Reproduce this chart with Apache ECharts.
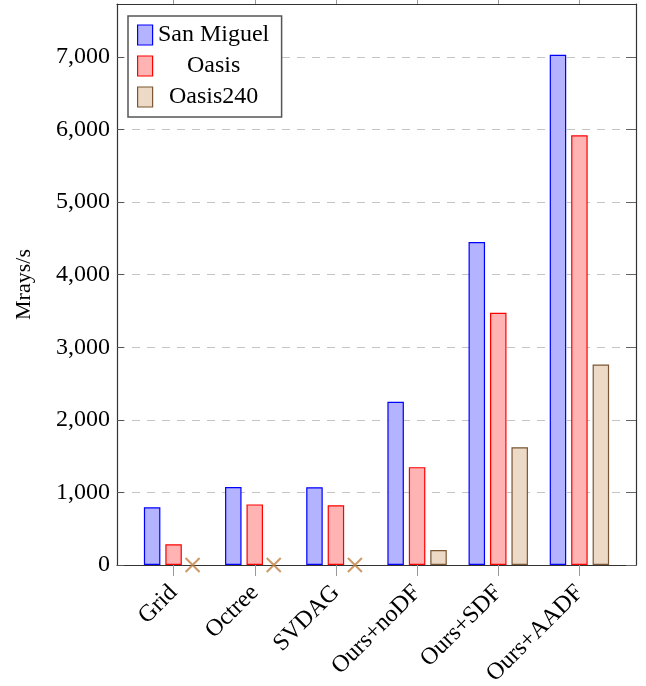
<!DOCTYPE html>
<html>
<head>
<meta charset="utf-8">
<script src="https://cdn.jsdelivr.net/npm/echarts@6/dist/echarts.min.js"></script>
<style>html,body{margin:0;padding:0;background:#fff}#c{width:646px;height:686px}</style>
</head>
<body>
<div id="c"></div>
<script>
const categories = ['Grid', 'Octree', 'SVDAG', 'Ours+noDF', 'Ours+SDF', 'Ours+AADF'];
const sanMiguel = [795, 1075, 1072, 2250, 4450, 7030];
const oasis = [285, 835, 822, 1348, 3475, 5920];
const oasis240 = [null, null, null, 206, 1623, 2761];
const missing = [['Grid', 0], ['Octree', 0], ['SVDAG', 0]];
const yTicks = [0, 1000, 2000, 3000, 4000, 5000, 6000, 7000];

const FONT = 'Liberation Serif';
const YMAX = 7730;
const chart = echarts.init(document.getElementById('c'), null, {renderer: 'canvas'});
const fmt = v => v.toLocaleString('en-US');
const frameLine = {show: true, onZero: false, lineStyle: {color: '#333', width: 1.2}};

chart.setOption({
  animation: false,
  textStyle: {fontFamily: FONT},
  grid: [
    {left: 133, right: 26, top: 4, bottom: 121, outerBoundsMode: 'none', containLabel: false},
    {left: 117, right: 10, top: 4, bottom: 121, outerBoundsMode: 'none', containLabel: false}
  ],
  legend: {
    data: ['San Miguel', 'Oasis', 'Oasis240'],
    orient: 'vertical',
    left: 128, top: 16,
    padding: [7, 12, 8, 9],
    icon: 'rect',
    itemWidth: 15, itemHeight: 20, itemGap: 7,
    borderColor: '#555', borderWidth: 1.5,
    backgroundColor: '#fff',
    itemStyle: {borderWidth: 1.2},
    formatter: n => '{c|' + n + '}',
    textStyle: {
      fontFamily: FONT, fontSize: 24, color: '#000',
      rich: {c: {width: 112, align: 'center', fontSize: 24, lineHeight: 26, fontFamily: FONT, color: '#000'}}
    }
  },
  xAxis: [
    {
      type: 'category', data: categories, gridIndex: 0, position: 'bottom',
      axisLine: {show: false},
      axisTick: {show: true, alignWithLabel: true, interval: 0, length: 11, lineStyle: {color: '#999', width: 1}},
      axisLabel: {rotate: 45, margin: 24, fontFamily: FONT, fontSize: 24, color: '#000', interval: 0}
    },
    {
      type: 'category', data: categories, gridIndex: 0, position: 'top',
      axisLine: {show: false},
      axisTick: {show: true, alignWithLabel: true, interval: 0, length: 11, lineStyle: {color: '#999', width: 1}},
      axisLabel: {show: true, interval: 0, color: 'rgba(0,0,0,0)', fontSize: 10, formatter: () => ''}
    },
    {
      type: 'value', gridIndex: 1, position: 'bottom', min: 0, max: 1,
      axisLine: frameLine,
      axisTick: {show: false}, axisLabel: {show: false}, splitLine: {show: false}
    },
    {
      type: 'value', gridIndex: 1, position: 'top', min: 0, max: 1,
      axisLine: frameLine,
      axisTick: {show: false}, axisLabel: {show: false}, splitLine: {show: false}
    }
  ],
  yAxis: [
    {
      type: 'value', gridIndex: 0, min: 0, max: YMAX,
      show: false
    },
    {
      type: 'value', gridIndex: 1, min: 0, max: YMAX, interval: 1000, position: 'left',
      name: 'Mrays/s', nameLocation: 'middle', nameGap: 82, nameRotate: 90,
      nameTextStyle: {fontFamily: FONT, fontSize: 22, color: '#000'},
      axisLine: frameLine,
      axisTick: {show: true, inside: true, length: 7, customValues: yTicks, lineStyle: {color: '#555'}},
      axisLabel: {
        fontFamily: FONT, fontSize: 24, color: '#000', margin: 7,
        customValues: yTicks,
        formatter: v => fmt(v)
      },
      splitLine: {show: true, lineStyle: {color: '#c4c4c4', type: [8, 7], width: 1.2}}
    },
    {
      type: 'value', gridIndex: 1, min: 0, max: YMAX, interval: 1000, position: 'right',
      axisLine: frameLine,
      axisTick: {show: true, inside: true, length: 10, customValues: yTicks, lineStyle: {color: '#666'}},
      axisLabel: {show: false}, splitLine: {show: false}
    }
  ],
  series: [
    {
      name: 'San Miguel', type: 'bar', xAxisIndex: 0, yAxisIndex: 0, data: sanMiguel,
      barWidth: 16.5, barGap: '30%',
      itemStyle: {color: '#b3b3ff', borderColor: '#0000ff', borderWidth: 1.2}
    },
    {
      name: 'Oasis', type: 'bar', xAxisIndex: 0, yAxisIndex: 0, data: oasis,
      barWidth: 16.5, barGap: '30%',
      itemStyle: {color: '#ffb3b3', borderColor: '#ff0000', borderWidth: 1.2}
    },
    {
      name: 'Oasis240', type: 'bar', xAxisIndex: 0, yAxisIndex: 0, data: oasis240,
      barWidth: 16.5, barGap: '30%',
      itemStyle: {color: '#ecd9c6', borderColor: '#7a5634', borderWidth: 1.2}
    },
    {
      name: 'Oasis240 missing', type: 'scatter', xAxisIndex: 0, yAxisIndex: 0, data: missing,
      symbol: 'path://M0,0L10,10M10,0L0,10', symbolSize: 14, symbolOffset: [19, 0],
      itemStyle: {color: 'rgba(0,0,0,0)', borderColor: '#c08040', borderWidth: 2},
      z: 5
    }
  ]
});
</script>
</body>
</html>
